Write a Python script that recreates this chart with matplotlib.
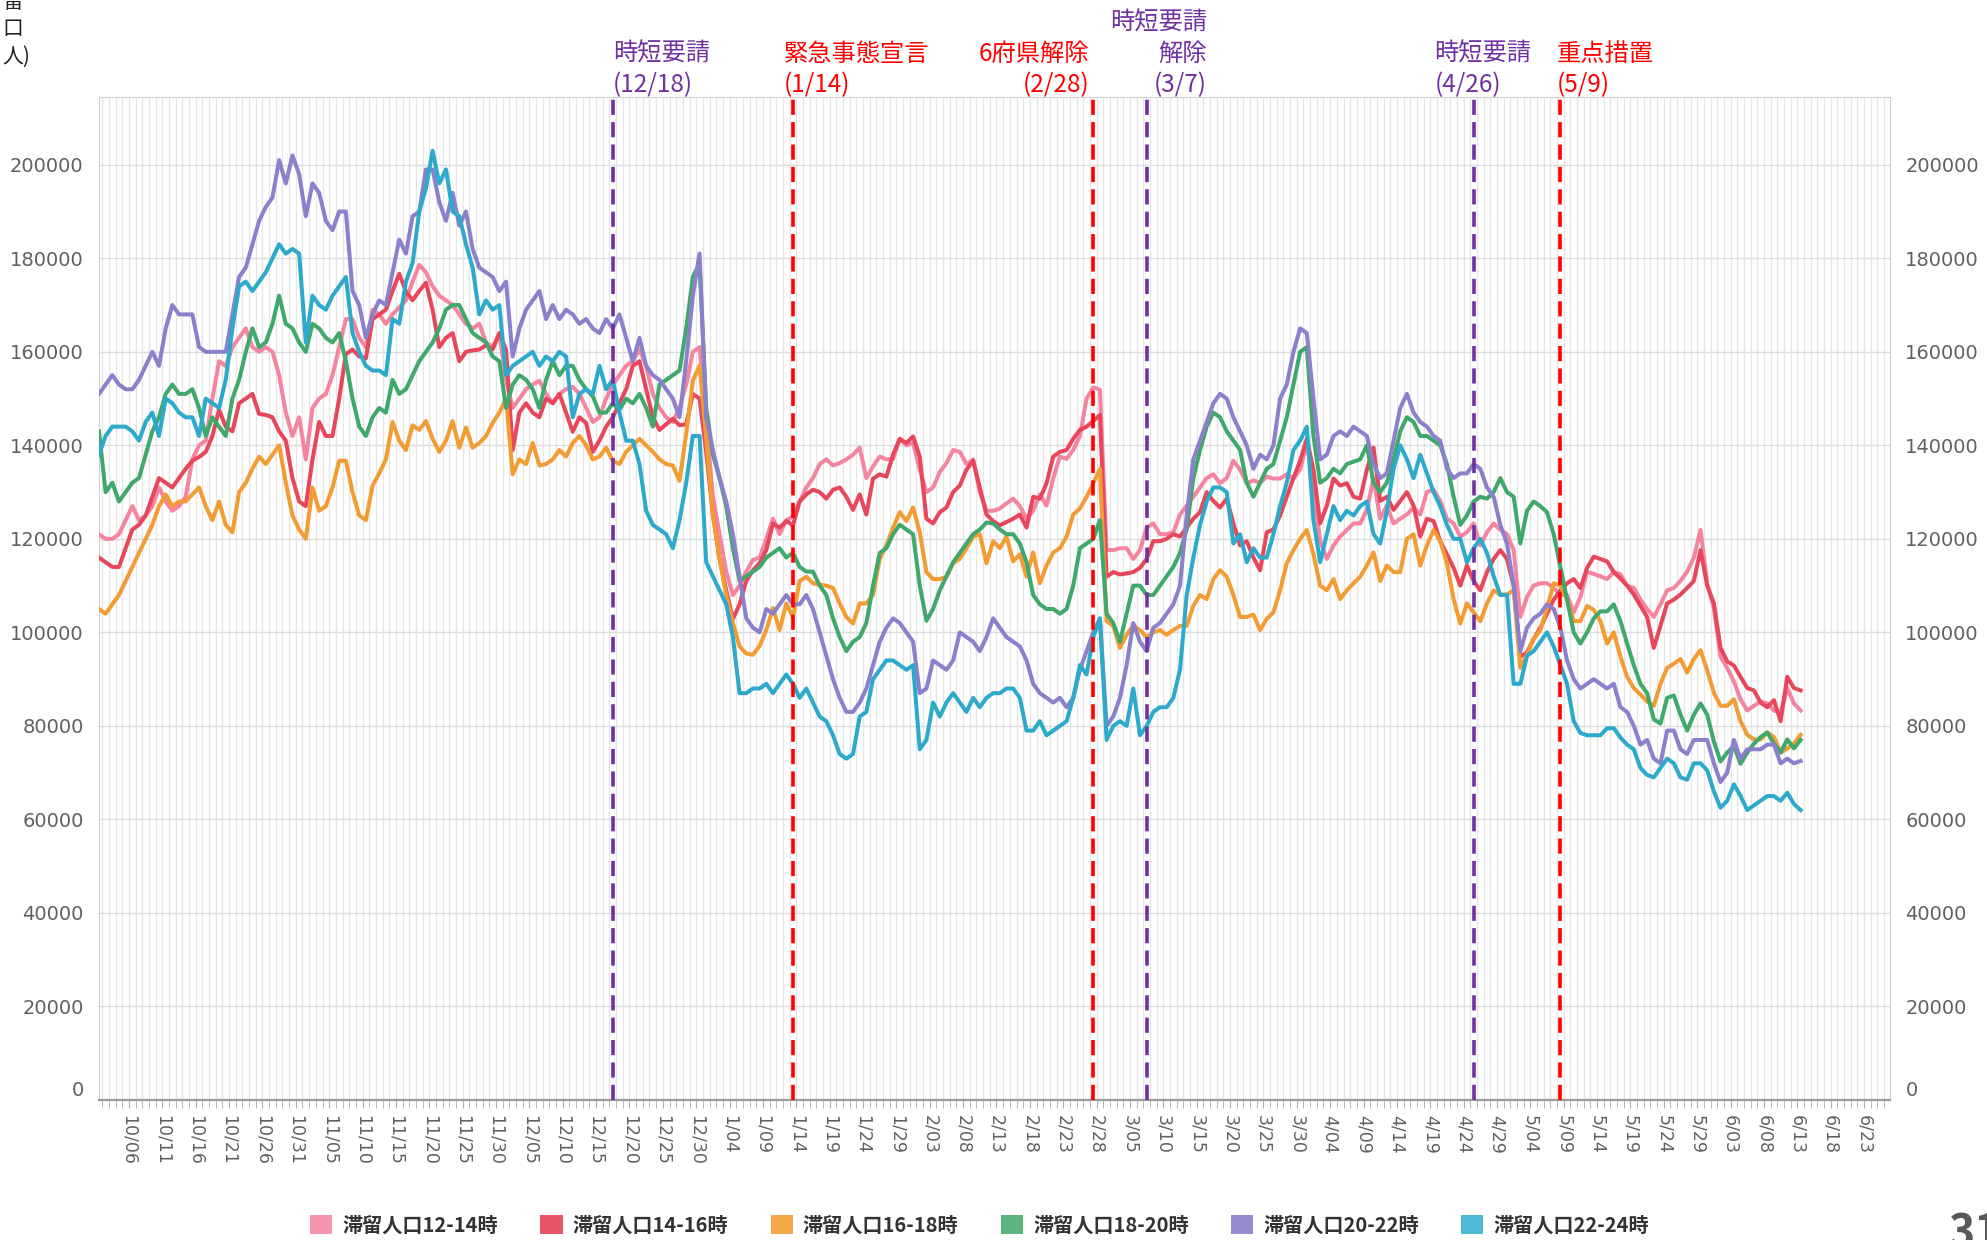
import matplotlib.pyplot as plt
from matplotlib.patches import Patch
from matplotlib.ticker import MultipleLocator
from matplotlib.transforms import blended_transform_factory
import numpy as np

plt.rcParams['font.family'] = ['Noto Sans CJK JP', 'DejaVu Sans']

# daily stay population (thousand people), 10/01 .. 6/13, 10 values per row
pink = [
    121, 120, 120, 121, 124, 127, 124, 125, 127, 131,
    128, 126, 127, 129, 137, 140, 141, 150, 158, 157,
    161, 163, 165, 161, 160, 161, 160, 155, 147, 142,
    146, 137, 148, 150, 151, 155, 161, 167, 167, 163,
    161, 169, 168, 166, 168, 169.5, 171, 175, 178.6, 177,
    174, 172, 171, 170, 168, 166, 165, 166, 162, 161,
    164, 154, 148, 150, 152, 153, 153.8, 151, 149, 151,
    152, 152.5, 151, 148, 145, 146, 150, 153, 155, 157,
    158, 160.5, 157, 151, 148, 146, 145, 148, 153, 160,
    161, 145, 129, 121, 113, 108, 110, 113, 115.5, 116,
    120, 124.3, 121, 124, 124.8, 128, 131, 133, 136, 137,
    135.7, 136.2, 137, 138, 139.5, 133, 135.5, 137.6, 137, 137.1,
    141.4, 140, 140.5, 134.8, 130, 131, 134.3, 136.2, 139, 138.6,
    136, 137, 130, 126, 126, 126.5, 127.6, 128.6, 127, 124.3,
    126, 129.5, 127.1, 132.9, 137.6, 137.1, 139, 142, 150, 152.4,
    151.9, 117.6, 117.6, 118, 118, 115.7, 117.6, 122.4, 123.3, 121,
    121, 121.4, 125.2, 127.1, 129, 131, 133, 133.8, 131.9, 133,
    136.7, 134.8, 131.9, 132.5, 132, 133.3, 132.9, 132.9, 133.8, 132.9,
    134.8, 140.5, 131, 119.5, 115.7, 118.6, 120.5, 121.9, 123.3, 123.3,
    126.2, 132.9, 124.3, 127.1, 123.3, 124.3, 125.2, 126.7, 125.2, 130,
    130.5, 128.1, 124.3, 123.3, 120.5, 121.4, 123.3, 118.6, 121.4, 123.3,
    121.9, 121, 117.6, 103.3, 107.6, 110, 110.5, 110.5, 109.5, 108,
    108, 104.3, 107.6, 112.9, 112.5, 112, 111.4, 112.9, 112.4, 110,
    109.5, 107, 105, 103.3, 106, 109, 109.5, 111, 113, 116,
    121.9, 110.5, 105.2, 94.8, 92.4, 89.5, 85.7, 83.3, 84.3, 85.2,
    84.8, 83.3, 82.9, 88.1, 84.8, 83.3]

red = [
    116, 115, 114, 114, 118, 122, 123, 125, 129, 133,
    132, 131, 133, 135, 136.7, 137.5, 138.6, 142, 147.6, 144,
    143, 149, 150, 151, 146.7, 146.5, 146, 143, 141, 133,
    128, 127, 137, 145, 142, 142, 150, 159.5, 160.5, 159,
    158.6, 167, 168, 169, 173, 176.7, 172.9, 171, 173, 174.8,
    169, 161, 163, 164, 158, 160, 160.3, 160.5, 161.4, 160.5,
    164, 160.5, 139, 147, 149, 147, 146, 150, 149, 151,
    147, 142.9, 146, 144.8, 138.6, 141, 144, 146, 149, 152,
    157, 158, 152, 146, 143.3, 144.5, 145.7, 144.3, 144.5, 151,
    150, 138.6, 125.2, 115.7, 109, 102.9, 106, 111, 113.3, 114.8,
    117.6, 123.3, 122.4, 123.8, 122.9, 128, 129.5, 130.5, 130, 128.6,
    130.5, 131, 129, 126.2, 129.5, 125.2, 132.9, 133.8, 133.3, 138,
    141.4, 140.5, 141.9, 137.6, 124.3, 123.3, 125.7, 126.7, 130, 131.4,
    134.8, 136.7, 131, 125.2, 123.8, 122.9, 123.6, 124.3, 125.2, 122.4,
    129, 128.6, 131.9, 137.6, 138.6, 139, 141.4, 143.3, 144, 145.2,
    146.5, 111.9, 112.9, 112.4, 112.6, 112.9, 113.8, 115.7, 119.5, 119.5,
    120, 121, 120.5, 122.4, 124.3, 125.7, 130, 128.1, 126.7, 128.6,
    123.3, 118.6, 119.5, 116, 113.3, 121.4, 122, 125, 129, 133,
    136.7, 141.4, 134.8, 123.3, 127.1, 132.9, 131.4, 131.9, 129, 128.6,
    134.8, 139.5, 128.1, 129, 126.2, 128.1, 130, 127.1, 120.5, 124.3,
    123.8, 119.5, 116.7, 113.8, 110, 114.3, 111, 109, 112.9, 115.7,
    117.6, 115.7, 110, 94.8, 95.7, 98.6, 101, 104, 107, 109,
    110.5, 111.4, 109.5, 113.8, 116.2, 115.7, 115.2, 112.9, 111.5, 110,
    108.1, 105.7, 103.3, 96.7, 101.4, 106.2, 107, 108.1, 109.5, 111,
    117.6, 110, 106.2, 96.7, 93.8, 92.9, 90.5, 88.1, 87.6, 85,
    84, 85.5, 81, 90.5, 88.1, 87.6]

orange = [
    105, 104, 106, 108, 111, 114, 117, 120, 123, 127,
    129.5, 127, 128, 128, 129.5, 131, 127, 124, 128, 123,
    121.4, 130, 132, 135, 137.6, 136, 138, 140, 132, 125,
    122, 120, 131, 126, 127, 131, 136.7, 136.7, 130, 125,
    124, 131.4, 134, 137, 145, 141, 139, 144.3, 143.3, 145.2,
    141.4, 138.6, 141, 145.2, 139.5, 143.8, 139.5, 140.5, 142, 144.8,
    147, 150, 133.8, 137, 136, 140.5, 135.7, 136, 137, 139,
    137.6, 140.5, 142, 140, 137, 137.6, 139.5, 136.7, 136, 138.6,
    140, 141.4, 140, 138.6, 137, 136, 135.7, 132.4, 142.4, 153.8,
    157.1, 141.4, 125.2, 115.7, 108, 102, 97, 95.5, 95.2, 97.1,
    100.5, 105.2, 100.5, 106.2, 103.3, 111, 111.9, 110.5, 110.2, 110,
    109.5, 106.2, 103.3, 101.9, 106.2, 106.2, 108, 115.7, 118.6, 122.4,
    125.7, 123.8, 126.7, 121.4, 112.9, 111.4, 111.4, 111.9, 114.8, 115.7,
    118, 120.5, 121, 114.8, 119.5, 118, 120.5, 115.2, 116.7, 111.9,
    117.1, 110.5, 114.3, 117.1, 118, 120.5, 125.2, 126.5, 129, 131.9,
    135, 102.4, 101.4, 96.7, 99.5, 101.4, 100.5, 99, 100, 100.5,
    99.5, 100.5, 101.4, 101.4, 105.7, 108, 107.1, 111.4, 113.3, 111.9,
    108, 103.3, 103.3, 103.8, 100.5, 102.9, 104.3, 109, 114.8, 117.6,
    120, 121.9, 116.7, 110, 109, 111.4, 107.1, 109, 110.5, 111.9,
    114.3, 117.1, 111, 114.3, 112.9, 112.9, 120, 121, 114.3, 118.6,
    121.9, 119.5, 114.8, 107.1, 101.9, 106.2, 104.3, 102.4, 106.2, 109,
    108.1, 108.1, 109, 92.4, 95.2, 98.6, 100.5, 105.2, 110.5, 110,
    107.1, 102.4, 102.4, 105.7, 104.8, 102.4, 97.6, 100, 94.8, 90.5,
    88.1, 86.7, 85.2, 84.3, 89, 92.4, 93.3, 94.3, 91.4, 94.3,
    96.2, 91.9, 87.1, 84.3, 84.3, 85.7, 81, 78.1, 77.1, 77.1,
    78.6, 77.6, 74.3, 75.2, 76.2, 78.1]

green = [
    143, 130, 132, 128, 130, 132, 133, 138, 143, 146,
    151, 153, 151, 151, 152, 148, 142, 146, 144, 142,
    150, 154, 160, 165, 161, 162, 166, 172, 166, 165,
    162, 160, 166, 165, 163, 162, 164, 158, 150, 144,
    142, 146, 148, 147, 154, 151, 152, 155, 158, 160,
    162, 165, 169, 170, 170, 167, 164, 163, 162, 159,
    158, 148, 153, 155, 154, 152, 148, 154, 158, 155,
    157, 157, 154, 152, 150.5, 147, 147, 149, 147.6, 150,
    149, 151, 148, 144, 153, 154, 155, 156, 165, 176,
    179, 148, 138, 133, 127, 118, 111, 112, 113, 114,
    116, 117, 118, 116, 117, 114, 113, 113, 110, 108,
    103, 99, 96, 98, 99, 102, 110, 117, 118, 121,
    123, 122, 121, 110, 102.5, 105, 109, 112, 115, 117,
    119, 121, 122, 123.5, 123.3, 122, 121, 121, 119, 115,
    108, 106, 105, 105, 104, 105, 110, 118, 119, 120,
    124, 104, 102, 98, 104, 110, 110, 108, 108, 110,
    112, 114, 117, 122, 133, 139, 144, 147, 146, 143,
    141, 139, 132, 129, 132, 135, 136, 141, 146, 153,
    160, 161, 142, 132, 133, 135, 134, 136, 136.5, 137,
    140, 132, 130, 132, 137, 143, 146, 145, 142, 142,
    141, 140, 136, 129, 123, 125, 128, 129, 128.6, 130,
    133, 130, 129, 119, 126, 128, 127, 125.7, 121, 114,
    107, 100, 97.6, 100, 103, 104.5, 104.5, 106, 102.4, 97.6,
    93, 89, 87, 81.4, 80.5, 86, 86.5, 82.4, 79, 82.4,
    84.8, 82.4, 76.7, 72.4, 74.3, 75.7, 71.9, 74.3, 76.2, 77.6,
    78.6, 76.2, 74.3, 77.1, 75.2, 77]

purple = [
    151, 153, 155, 153, 152, 152, 154, 157, 160, 157,
    165, 170, 168, 168, 168, 161, 160, 160, 160, 160,
    168, 176, 178, 183, 188, 191, 193, 201, 196, 202,
    198, 189, 196, 194, 188, 186, 190, 190, 173, 170,
    163, 168, 171, 170, 177, 184, 181, 189, 190, 199,
    199, 192, 188, 194, 187, 190, 182, 178, 177, 176,
    173, 175, 159, 165, 169, 171, 173, 167, 170, 167,
    169, 168, 166, 167, 165, 164, 167, 165, 168, 163,
    158, 163, 157, 155, 154, 152, 150, 146, 158, 172,
    181, 146, 139, 133, 128, 121, 112, 103, 101, 100,
    105, 104, 106, 108, 106, 106, 108, 105, 100, 95,
    90, 86, 83, 83, 85, 88, 93, 98, 101, 103,
    102, 100, 98, 87, 88, 94, 93, 92, 94, 100,
    99, 98, 96, 99, 103, 101, 99, 98, 97, 94,
    89, 87, 86, 85, 86, 84, 86, 92, 96, 100,
    103, 80, 82, 86, 93, 102, 98, 96, 101, 102,
    104, 106, 110, 125, 137, 141, 145, 149, 151, 150,
    146, 143, 140, 135, 138, 137, 140, 150, 153, 160,
    165, 164, 150, 137, 138, 142, 143, 142, 144, 143,
    142, 136, 133, 134, 141, 148, 151, 147, 145, 144,
    142, 141, 135, 133, 134, 134, 136, 135, 131, 129,
    123, 119, 110, 96, 101, 103, 104, 106, 105, 101,
    94, 90, 88, 89, 90, 89, 88, 89, 84, 83,
    80, 76, 77, 73, 72, 79, 79, 75, 74, 77,
    77, 77, 72, 68, 70, 77, 73, 75, 75, 75,
    76, 76, 72, 73, 72, 72.5]

cyan = [
    138, 142, 144, 144, 144, 143, 141, 145, 147, 142,
    150, 149, 147, 146, 146, 142, 150, 149, 148, 154,
    165, 174, 175, 173, 175, 177, 180, 183, 181, 182,
    181, 162, 172, 170, 169, 172, 174, 176, 164, 160,
    157, 156, 156, 155, 167, 166, 175, 179, 190, 195,
    203, 196, 199, 190, 189, 183, 178, 168, 171, 169,
    170, 155, 157, 158, 159, 160, 157, 159, 158, 160,
    159, 146, 151, 152, 151, 157, 152, 154, 147, 141,
    141, 136, 126, 123, 122, 121, 118, 124, 132, 142,
    142, 115, 112, 109, 106, 99, 87, 87, 88, 88,
    89, 87, 89, 91, 89, 86, 88, 85, 82, 81,
    78, 74, 73, 74, 82, 83, 90, 92, 94, 94,
    93, 92, 93, 75, 77, 85, 82, 85, 87, 85,
    83, 86, 84, 86, 87, 87, 88, 88, 86, 79,
    79, 81, 78, 79, 80, 81, 86, 93, 91, 99,
    103, 77, 80, 81, 80, 88, 78, 80, 83, 84,
    84, 86, 92, 108, 116, 123, 128, 131, 131, 130,
    119, 121, 115, 118, 116, 116, 121, 127, 132, 139,
    141, 144, 124, 115, 121, 127, 124, 126, 125, 127,
    128, 121, 119, 126, 135, 140, 137, 133, 138, 134,
    130, 127, 123, 120, 120, 115, 118, 120, 117, 112,
    108, 108, 89, 89, 95, 96, 98, 100, 97, 93,
    89, 81, 78.5, 78, 78, 78, 79.5, 79.5, 77.5, 76,
    75, 71, 69.5, 69, 71, 73, 72, 69, 68.5, 72,
    72, 70.5, 66, 62.5, 64, 67.5, 65, 62, 63, 64,
    65, 65, 64, 65.7, 63.3, 62]

series_names = ['滞留人口12-14時', '滞留人口14-16時', '滞留人口16-18時',
                '滞留人口18-20時', '滞留人口20-22時', '滞留人口22-24時']
line_colors = ['#F4849F', '#E8475B', '#F39C34', '#3FA86B', '#8B80CC', '#2DAACB']
legend_colors = ['#F595AE', '#E85566', '#F5A84A', '#5CB47E', '#958CD0', '#4DB9D5']

# x tick labels every 5 days starting 10/06 (day 5 counted from 10/01)
tick_labels = ['10/06', '10/11', '10/16', '10/21', '10/26', '10/31', '11/05', '11/10',
               '11/15', '11/20', '11/25', '11/30', '12/05', '12/10', '12/15', '12/20',
               '12/25', '12/30', '1/04', '1/09', '1/14', '1/19', '1/24', '1/29', '2/03',
               '2/08', '2/13', '2/18', '2/23', '2/28', '3/05', '3/10', '3/15', '3/20',
               '3/25', '3/30', '4/04', '4/09', '4/14', '4/19', '4/24', '4/29', '5/04',
               '5/09', '5/14', '5/19', '5/24', '5/29', '6/03', '6/08', '6/13', '6/18', '6/23']
y_ticks = [0, 20000, 40000, 60000, 80000, 100000, 120000, 140000, 160000, 180000, 200000]

event_text = ['時短要請\n(12/18)', '緊急事態宣言\n(1/14)', '6府県解除\n(2/28)',
              '時短要請\n解除\n(3/7)', '時短要請\n(4/26)', '重点措置\n(5/9)']
event_day = [78, 105, 150, 157, 207, 220]   # days after 10/01
event_color = ['#7030A0', '#FF0000', '#FF0000', '#7030A0', '#7030A0', '#FF0000']

series = [pink, red, orange, green, purple, cyan]
lens = [len(s) for s in series]
if any(n != 256 for n in lens):
    raise ValueError('series lengths: %s' % lens)

fig = plt.figure(figsize=(19.87, 12.40), dpi=100)
ax = fig.add_axes([0.0498, 0.1129, 0.9014, 0.8089])

x = np.arange(256) + 0.5
for vals, c in zip(series, line_colors):
    ax.plot(x, np.array(vals) * 1000, color=c, lw=2.9, solid_joinstyle='round', zorder=3)

# event lines and their labels
line_shift = [-0.5, -0.5, -0.5, 0.5, -0.5, -0.5]
label_dx = [0, -1.4, -0.6, 9.0, -5.9, -0.6]
label_ha = ['left', 'left', 'right', 'right', 'left', 'left']
trans = blended_transform_factory(ax.transData, fig.transFigure)
for txt, day, sh, dx, ha, c in zip(event_text, event_day, line_shift, label_dx, label_ha, event_color):
    ax.axvline(day + sh, color=c, lw=2.6, dashes=(4.2, 2), zorder=4)
    ax.text(day + sh + dx, 0.921, txt, transform=trans, ha=ha, va='bottom',
            multialignment=ha, color=c, fontsize=17.5, linespacing=1.25)

ax.set_xlim(0.5, 268.9)
ax.set_ylim(0, 214500)

ax.set_yticks(y_ticks)
ax.set_yticklabels([str(v) for v in y_ticks], fontfamily='DejaVu Sans')
ax.tick_params(axis='y', length=0, labelsize=14, labelcolor='#606060', pad=11,
               labelright=True)
for tk in ax.yaxis.get_major_ticks():
    tk.label1.set_fontfamily('DejaVu Sans')
    tk.label2.set_fontfamily('DejaVu Sans')
t0 = ax.yaxis.get_major_ticks()[0]
t0.label1.set_va('bottom')
t0.label2.set_va('bottom')

ax.set_xticks([5 + 5 * k for k in range(len(tick_labels))])
ax.set_xticklabels(tick_labels, rotation=-90, ha='center', va='top',
                   fontfamily='DejaVu Sans')
ax.xaxis.set_minor_locator(MultipleLocator(1))
ax.tick_params(axis='x', which='both', length=6, color='#b0b0b0', labelsize=12.5,
               labelcolor='#606060', pad=5)

ax.grid(axis='x', which='both', color='#e6e6e6', lw=0.9)
ax.grid(axis='y', which='major', color='#dcdcdc', lw=1.0)
ax.set_axisbelow(True)

for s in ['left', 'top', 'right']:
    ax.spines[s].set_color('#d0d0d0')
ax.spines['bottom'].set_color('#9a9a9a')
ax.spines['bottom'].set_linewidth(1.6)

handles = [Patch(facecolor=c, edgecolor='none') for c in legend_colors]
leg = fig.legend(handles, series_names, loc='center', bbox_to_anchor=(0.493, 0.012),
                 ncol=6, frameon=False, handlelength=1.1, handleheight=1.1,
                 handletextpad=0.5, columnspacing=2.1,
                 prop={'family': ['Noto Sans CJK JP', 'DejaVu Sans'], 'size': 14.5,
                       'weight': 'bold'})
for t in leg.get_texts():
    t.set_color('#333333')

# cut-off axis title at top left and page number at bottom right
fig.text(0.001, 1.007, '留\n口\n人)', ha='left', va='top', fontsize=15,
         linespacing=1.3, color='#222222')
fig.text(0.981, -0.006, '31', ha='left', va='baseline', fontsize=32,
         weight='bold', color='#595959')

fig.savefig('out.png', dpi=100)
